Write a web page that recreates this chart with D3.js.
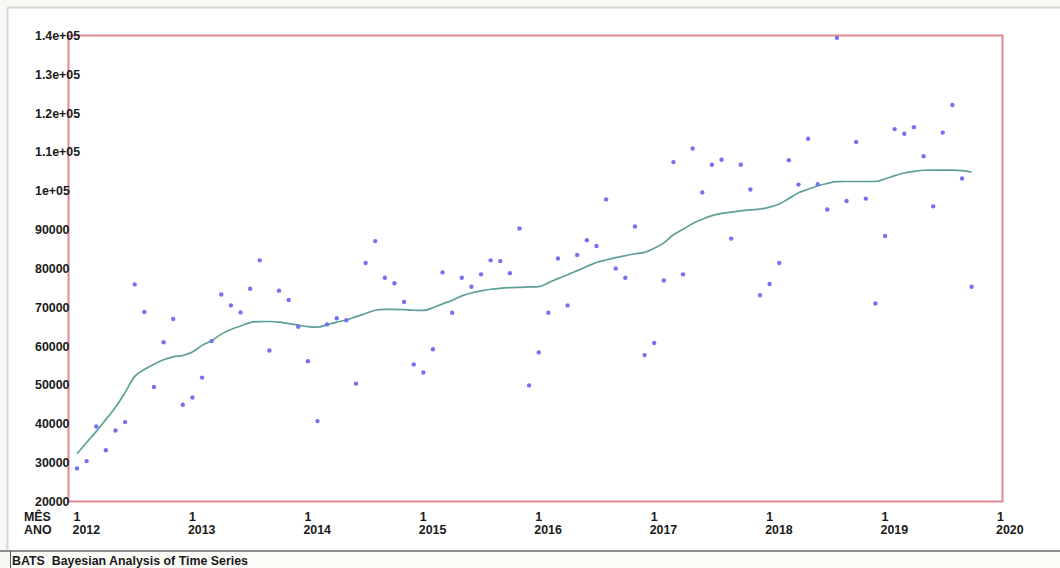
<!DOCTYPE html>
<html>
<head>
<meta charset="utf-8">
<script src="https://cdn.jsdelivr.net/npm/d3@7"></script>
<style>
  html, body { margin: 0; padding: 0; background: #f7f7f3; }
  svg { display: block; }
  text { font-family: "Liberation Sans", Arial, sans-serif; font-weight: bold; font-size: 12.4px; fill: #1a1a1a; white-space: pre; }
</style>
</head>
<body>
<svg id="chart" width="1060" height="568"></svg>
<script>
// Monthly observations, Jan 2012 .. Oct 2019
const years = [2012, 2013, 2014, 2015, 2016, 2017, 2018, 2019, 2020];
const yTicks = [20000, 30000, 40000, 50000, 60000, 70000, 80000, 90000, 100000, 110000, 120000, 130000, 140000];
const yTickLabels = ["20000", "30000", "40000", "50000", "60000", "70000", "80000", "90000", "1e+05", "1.1e+05", "1.2e+05", "1.3e+05", "1.4e+05"];

const observed = [
  28500, 30400, 39300, 33200, 38300, 40450, 75900, 68800, 49500, 61000, 67000, 44900,
  46800, 51900, 61300, 73300, 70500, 68700, 74800, 82100, 58900, 74300, 71900, 65000,
  56100, 40700, 65600, 67200, 66700, 50350, 81400, 87050, 77600, 76200, 71400, 55300,
  53200, 59200, 79000, 68600, 77600, 75300, 78500, 82100, 81900, 78800, 90300, 49900,
  58400, 68600, 82600, 70500, 83500, 87300, 85800, 97800, 80000, 77600, 90800, 57700,
  60800, 76900, 107400, 78500, 110900, 99600, 106700, 108000, 87700, 106700, 100350, 73100,
  76000, 81400, 107900, 101600, 113400, 101700, 95200, 139400, 97400, 112600, 98000, 71000,
  88400, 115900, 114700, 116400, 108900, 96000, 115000, 122100, 103200, 75300
];

// Smoothed level (posterior mean)
const level = [
  32300, 35200, 38050, 41150, 44250, 48100, 52230, 54000, 55330, 56500, 57260, 57600,
  58500, 60200, 61400, 63100, 64300, 65200, 66080, 66340, 66350, 66200, 65800, 65400,
  65050, 64900, 65550, 66200, 66750, 67600, 68400, 69250, 69450, 69500, 69400, 69250,
  69200, 69900, 70900, 71800, 72950, 73700, 74250, 74650, 74900, 75050, 75150, 75250,
  75350, 76300, 77400, 78400, 79450, 80500, 81550, 82200, 82800, 83300, 83800, 84150,
  85200, 86600, 88700, 90100, 91600, 92700, 93600, 94200, 94500, 94850, 95100, 95300,
  95800, 96600, 98000, 99500, 100400, 101300, 101900, 102350, 102400, 102400, 102400, 102400,
  103100, 103900, 104600, 105000, 105300, 105350, 105350, 105350, 105200, 104800
];

const svg = d3.select("#chart");

// window panel
svg.append("rect").attr("x", 8).attr("y", 8).attr("width", 1052).attr("height", 542)
  .attr("fill", "#ffffff");
svg.append("line").attr("x1", 7.5).attr("x2", 1060).attr("y1", 7.5).attr("y2", 7.5)
  .attr("stroke", "#d6d6d2").attr("stroke-width", 2);
svg.append("line").attr("x1", 7.5).attr("x2", 7.5).attr("y1", 7.5).attr("y2", 550)
  .attr("stroke", "#d6d6d2").attr("stroke-width", 2);

// status bar
svg.append("rect").attr("x", 10).attr("y", 551).attr("width", 1050).attr("height", 17)
  .attr("fill", "#fbfbf8");
svg.append("line").attr("x1", 0).attr("x2", 1060).attr("y1", 551).attr("y2", 551)
  .attr("stroke", "#6a6a6a").attr("stroke-width", 1.5);
svg.append("line").attr("x1", 10.5).attr("x2", 10.5).attr("y1", 551).attr("y2", 568)
  .attr("stroke", "#555").attr("stroke-width", 1);
svg.append("text").attr("x", 12).attr("y", 565).attr("xml:space", "preserve")
  .text("BATS  Bayesian Analysis of Time Series");

const frame = { left: 68.5, right: 1002.5, top: 35.5, bottom: 501.5 };

const x = d3.scaleLinear().domain([0, 96]).range([77, 1000.5]);
const y = d3.scaleLinear().domain([20000, 140000]).range([frame.bottom, frame.top]);

// y tick labels (left aligned, drawn over the frame)
const yAxis = svg.append("g").attr("class", "y-axis");
yAxis.selectAll("text").data(yTicks).join("text")
  .attr("x", 35)
  .attr("y", d => y(d))
  .attr("dy", "0.36em")
  .text((d, i) => yTickLabels[i]);

// x tick labels: month and year
svg.append("text").attr("x", 24).attr("y", 521).text("MÊS");
svg.append("text").attr("x", 24).attr("y", 533.5).text("ANO");
const xAxis = svg.append("g").attr("class", "x-axis");
xAxis.selectAll("text.m").data(years).join("text").attr("class", "m")
  .attr("x", d => x((d - 2012) * 12) - 3.5)
  .attr("y", 521)
  .text("1");
xAxis.selectAll("text.yr").data(years).join("text").attr("class", "yr")
  .attr("x", d => x((d - 2012) * 12) - 4.5)
  .attr("y", 533.5)
  .text(d => d);

// plot frame
svg.append("rect")
  .attr("x", frame.left).attr("y", frame.top)
  .attr("width", frame.right - frame.left).attr("height", frame.bottom - frame.top)
  .attr("fill", "none").attr("stroke", "#e2888d").attr("stroke-width", 2);

// y labels sit above the frame line
yAxis.raise();

// level line
const line = d3.line().x((d, i) => x(i)).y(d => y(d)).curve(d3.curveMonotoneX);
svg.append("path").datum(level)
  .attr("d", line)
  .attr("fill", "none")
  .attr("stroke", "#5e9f97")
  .attr("stroke-width", 1.7);

// observations
svg.append("g").selectAll("circle").data(observed).join("circle")
  .attr("cx", (d, i) => x(i))
  .attr("cy", d => y(d))
  .attr("r", 2.2)
  .attr("fill", "#7373f2");
</script>
</body>
</html>
